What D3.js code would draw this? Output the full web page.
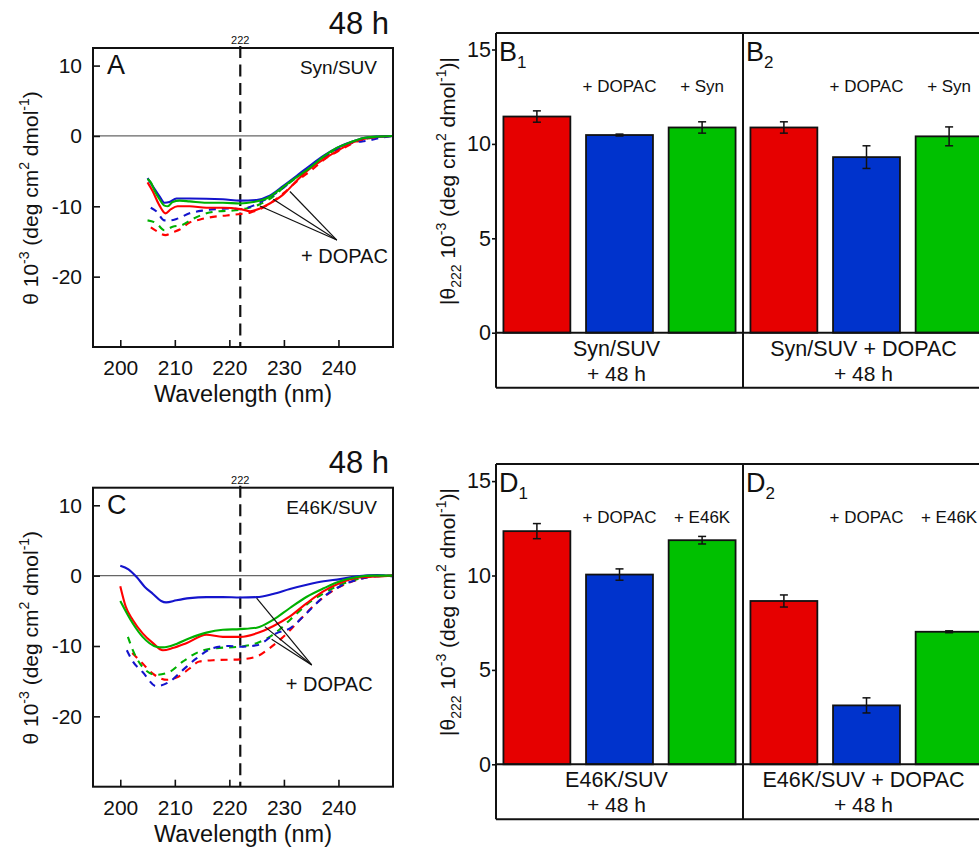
<!DOCTYPE html>
<html>
<head>
<meta charset="utf-8">
<script src="https://cdn.jsdelivr.net/npm/d3@7/dist/d3.min.js"></script>
<style>
  html, body { margin: 0; padding: 0; background: #fff; }
  svg { display: block; }
  text { font-family: "Liberation Sans", Arial, sans-serif; fill: #111; }
</style>
</head>
<body>
<svg id="fig" width="979" height="847"></svg>
<script>
// ---------- axis ticks ----------
const wavelengthTicks = [200, 210, 220, 230, 240];
const thetaTicks = [10, 0, -10, -20];
const barTicks = [0, 5, 10, 15];

// ---------- CD spectra, Syn/SUV after 48 h: [wavelength nm, theta x 10^-3] ----------
const synRed = [[205,-6.6],[205.9,-7.8],[207.2,-9.9],[208.3,-11.0],[209.3,-10.4],[210.5,-10.0],[212.7,-10.0],[215.8,-10.2],[218.8,-10.2],[222,-10.4],[223.8,-10.7],[225.6,-10.3],[227.4,-9.6],[229.9,-8.3],[232.3,-6.4],[234.2,-5.0],[237.3,-3.3],[240.3,-1.9],[243.4,-0.7],[246.5,-0.2],[250,0]];
const synBlue = [[205,-6.0],[206,-7.2],[207.2,-8.6],[208.1,-9.5],[209,-9.4],[210.3,-8.9],[212.7,-8.9],[218.8,-9.0],[222,-9.2],[225,-9.1],[227.4,-8.5],[229.9,-7.1],[232.3,-5.7],[234.8,-4.2],[237.3,-2.8],[239.7,-1.7],[242.2,-0.9],[244.6,-0.3],[247,-0.1],[250,0]];
const synGreen = [[205,-6.1],[205.6,-6.6],[206.3,-7.8],[207.2,-9.0],[208.1,-9.9],[208.7,-10.0],[209.6,-9.4],[210.9,-9.2],[212.7,-9.3],[215.8,-9.5],[218.8,-9.5],[222,-9.6],[224.4,-9.4],[226.8,-8.9],[229.3,-7.6],[231.7,-6.2],[234.8,-4.5],[237.3,-2.9],[239.7,-1.7],[242.2,-0.9],[244.6,-0.3],[247,-0.1],[250,0]];
const synRedDopac = [[205.6,-13.0],[206.6,-13.5],[208.3,-14.1],[209.6,-13.7],[210.9,-13.3],[212.7,-12.3],[214.5,-11.9],[217,-11.5],[219.5,-11.3],[222,-11.1],[223.8,-10.9],[225.6,-10.4],[227.4,-9.6],[230,-8.1],[232.3,-6.5],[235,-4.9],[237.5,-3.3],[240.3,-2.0],[243.4,-0.8],[246.5,-0.2],[250,0]];
const synBlueDopac = [[205.6,-10.2],[206.6,-10.7],[208.1,-12.0],[209,-12.0],[210.3,-11.8],[212.7,-11.0],[215.2,-10.6],[217.6,-10.4],[220.1,-10.3],[222,-10.4],[224.4,-9.9],[226.2,-9.2],[228,-8.4],[230,-7.3],[232.3,-5.8],[235,-4.3],[237.5,-3.0],[240,-1.9],[242.5,-1.0],[245.2,-0.7],[247.5,-0.3],[250,0]];
const synGreenDopac = [[205,-12.0],[206.6,-12.4],[208.1,-13.4],[209.6,-12.9],[211.2,-12.7],[213.3,-11.8],[215.8,-11.0],[218.2,-10.7],[220.7,-10.6],[223.1,-10.3],[225.6,-9.7],[227.5,-8.9],[230,-7.3],[232.3,-5.9],[235,-4.2],[237.5,-2.9],[240,-1.7],[242.5,-0.9],[245,-0.4],[247.5,-0.1],[250,0]];

// ---------- CD spectra, E46K/SUV after 48 h ----------
const e46kRed = [[200,-1.5],[201,-4.4],[202.3,-6.3],[204.1,-8.2],[206,-9.6],[207.8,-10.6],[209.6,-10.3],[212.1,-9.6],[215.8,-8.4],[218.8,-8.7],[222,-8.7],[225,-8.2],[228,-7.2],[231.1,-5.8],[234.2,-3.9],[237.3,-2.2],[240.3,-1.05],[243.4,-0.3],[247,-0.1],[250,0]];
const e46kBlue = [[200,1.4],[201.5,0.9],[203,-0.2],[204.5,-1.6],[206,-2.6],[207.5,-3.6],[208.4,-3.8],[210.3,-3.5],[212.7,-3.2],[215.8,-3.05],[218.8,-3.05],[222,-3.1],[225,-3.05],[228,-2.6],[231.1,-1.9],[234.2,-1.3],[237.3,-0.8],[240.3,-0.5],[243.4,-0.1],[247.1,0.1],[250,-0.1]];
const e46kGreen = [[200,-3.6],[202.3,-6.8],[204.1,-8.7],[206.6,-10.1],[207.8,-10.2],[210.3,-9.7],[212.7,-8.9],[215.8,-8.1],[218.8,-7.7],[222,-7.6],[225,-7.4],[228,-6.3],[231.1,-4.6],[234.2,-3.0],[237.3,-1.8],[240.3,-0.8],[243.4,-0.2],[246.5,0],[250,0]];
const e46kRedDopac = [[202.2,-11.0],[204.1,-12.5],[205.9,-13.9],[208.6,-14.8],[210.3,-14.5],[212.7,-13.2],[214.5,-12.2],[217.6,-12.0],[222,-11.9],[225,-11.5],[227.4,-10.3],[229.9,-8.7],[232.9,-6.3],[236,-3.9],[239.7,-1.8],[243.4,-0.6],[246.5,-0.1],[250,0]];
const e46kBlueDopac = [[201.2,-10.6],[202.3,-12.2],[204.1,-13.7],[206.6,-15.7],[209,-15.1],[211.5,-13.4],[213.9,-11.8],[217,-10.3],[220,-10.0],[222,-10.1],[225,-9.9],[228.6,-8.2],[231.1,-7.5],[234.2,-5.3],[237.3,-3.0],[240.3,-1.5],[243.4,-0.6],[246.5,-0.1],[250,0]];
const e46kGreenDopac = [[201.4,-8.7],[202.3,-10.6],[204.1,-13.0],[206.6,-14.1],[209,-13.7],[211.5,-12.2],[214.5,-10.8],[217.6,-10.3],[222,-10.1],[225,-9.6],[228,-8.4],[231.1,-6.3],[234.2,-4.1],[237.3,-2.5],[240.3,-1.3],[243.4,-0.5],[246.5,-0.1],[250,0]];

// ---------- |theta222| bars, x 10^-3 ----------
const barConditions = ["ctrl", "dopac", "protein"];
const synTopLabels = ["", "+ DOPAC", "+ Syn"];
const e46kTopLabels = ["", "+ DOPAC", "+ E46K"];
const synB1 = [11.45, 10.47, 10.87];
const synB1Err = [0.3, 0.05, 0.3];
const synB2 = [10.87, 9.3, 10.4];
const synB2Err = [0.3, 0.6, 0.5];
const e46kD1 = [12.35, 10.05, 11.87];
const e46kD1Err = [0.4, 0.3, 0.2];
const e46kD2 = [8.65, 3.12, 7.02];
const e46kD2Err = [0.32, 0.4, 0.05];

const svg = d3.select("#fig");
svg.append("rect").attr("width", 979).attr("height", 847).attr("fill", "#fff");

const specColor = { red: "#ff0000", blue: "#1414cc", green: "#00b000" };
const barColor = ["#e60000", "#0033cc", "#00c000"];
const plainNum = d => String(d);   // hyphen-minus, not U+2212

// rotated label "θ 10^-3 (deg cm^2 dmol^-1)" built from tspans
function thetaLabel(g, x, y, withSub) {
  const t = g.append("text")
    .attr("transform", `translate(${x},${y}) rotate(-90)`)
    .attr("text-anchor", "middle")
    .attr("font-size", 21);
  if (withSub) {
    t.append("tspan").text("|θ");
    t.append("tspan").attr("font-size", 14).attr("dy", 6).text("222");
    t.append("tspan").attr("dy", -6).text(" 10");
  } else {
    t.append("tspan").text("θ 10");
  }
  t.append("tspan").attr("font-size", 14).attr("dy", -9).text("-3");
  t.append("tspan").attr("dy", 9).text(" (deg cm");
  t.append("tspan").attr("font-size", 14).attr("dy", -9).text("2");
  t.append("tspan").attr("dy", 9).text(" dmol");
  t.append("tspan").attr("font-size", 14).attr("dy", -9).text("-1");
  t.append("tspan").attr("dy", 9).text(withSub ? ")|" : ")");
}

function drawSpectra(cfg) {
  const g = svg.append("g");
  const left = 93, right = 393, top = cfg.top, h = 299;
  const x = d3.scaleLinear().domain([195, 250]).range([left, right]);
  const y = d3.scaleLinear().domain([-30, 12.5]).range([top + h, top]);

  // zero line
  g.append("line").attr("x1", left).attr("x2", right)
    .attr("y1", y(0)).attr("y2", y(0))
    .attr("stroke", "#666").attr("stroke-width", 1.2);

  // axes with inward ticks
  const ya = g.append("g").attr("transform", `translate(${left},0)`)
    .call(d3.axisLeft(y).tickValues(thetaTicks).tickSize(-7).tickPadding(11).tickFormat(plainNum));
  const xa = g.append("g").attr("transform", `translate(0,${top + h})`)
    .call(d3.axisBottom(x).tickValues(wavelengthTicks).tickSize(-7).tickPadding(13.5).tickFormat(plainNum));
  [ya, xa].forEach(a => {
    a.select(".domain").remove();
    a.selectAll(".tick line").attr("stroke", "#111").attr("stroke-width", 1.6);
    a.selectAll(".tick text").attr("font-size", 21).attr("fill", "#111")
      .attr("font-family", "Liberation Sans, Arial, sans-serif");
  });

  // 222 nm marker
  g.append("line").attr("x1", x(222)).attr("x2", x(222))
    .attr("y1", top - 2).attr("y2", top + h)
    .attr("stroke", "#111").attr("stroke-width", 2.2).attr("stroke-dasharray", "12,6.5");
  g.append("text").attr("x", x(222)).attr("y", top - 4)
    .attr("text-anchor", "middle").attr("font-size", 11).text("222");

  // spectra
  const line = d3.line().x(d => x(d[0])).y(d => y(d[1])).curve(d3.curveMonotoneX);
  cfg.series.forEach(s => {
    g.append("path").datum(s.data)
      .attr("d", line)
      .attr("fill", "none")
      .attr("stroke", specColor[s.color])
      .attr("stroke-width", 2.1)
      .attr("stroke-dasharray", s.dashed ? "7,6" : null);
  });

  // + DOPAC pointer lines
  cfg.pointers.forEach(p => {
    g.append("line")
      .attr("x1", x(p[0])).attr("y1", y(p[1]))
      .attr("x2", x(cfg.apex[0])).attr("y2", y(cfg.apex[1]))
      .attr("stroke", "#111").attr("stroke-width", 1.2);
  });
  g.append("text").attr("x", x(cfg.note[0])).attr("y", y(cfg.note[1]))
    .attr("text-anchor", "middle").attr("font-size", 20).text("+ DOPAC");

  // frame
  g.append("rect").attr("x", left).attr("y", top).attr("width", right - left).attr("height", h)
    .attr("fill", "none").attr("stroke", "#111").attr("stroke-width", 2);

  // panel texts
  g.append("text").attr("x", 107).attr("y", top + 26).attr("font-size", 27).text(cfg.letter);
  g.append("text").attr("x", 377).attr("y", top + 26).attr("text-anchor", "end")
    .attr("font-size", 19).text(cfg.sample);
  g.append("text").attr("x", 389).attr("y", top - 14.5).attr("text-anchor", "end")
    .attr("font-size", 31).text("48 h");
  g.append("text").attr("x", 243).attr("y", top + 354).attr("text-anchor", "middle")
    .attr("font-size", 23.5).text("Wavelength (nm)");
  thetaLabel(g, 38, top + 150, false);
}

function drawBars(cfg) {
  const g = svg.append("g");
  const left = 496, right = 990, top = cfg.top, zero = cfg.zero, bottom = cfg.zero + 55;
  const y = d3.scaleLinear().domain([0, 15]).range([zero, zero - 283.2]);
  const groupX = d3.scaleBand().domain([0, 1]).range([left, right]);
  const barX = d3.scaleBand().domain(barConditions).range([0, groupX.bandwidth()])
    .paddingInner(0.19).paddingOuter(0.09);

  cfg.groups.forEach((grp, gi) => {
    const gx = groupX(gi);
    grp.values.forEach((v, i) => {
      const bx = gx + barX(barConditions[i]);
      const bw = barX.bandwidth();
      g.append("rect").attr("x", bx).attr("y", y(v)).attr("width", bw).attr("height", y(0) - y(v))
        .attr("fill", barColor[i]).attr("stroke", "#111").attr("stroke-width", 1.8);
      const cx = bx + bw / 2, e = grp.errors[i];
      g.append("line").attr("x1", cx).attr("x2", cx).attr("y1", y(v + e)).attr("y2", y(v - e))
        .attr("stroke", "#111").attr("stroke-width", 1.5);
      [v + e, v - e].forEach(ev => {
        g.append("line").attr("x1", cx - 4).attr("x2", cx + 4).attr("y1", y(ev)).attr("y2", y(ev))
          .attr("stroke", "#111").attr("stroke-width", 1.5);
      });
      if (cfg.topLabels[i]) {
        g.append("text").attr("x", cx).attr("y", top + 59).attr("text-anchor", "middle")
          .attr("font-size", 17).text(cfg.topLabels[i]);
      }
    });
    // panel letter with subscript
    const lt = g.append("text").attr("x", gx + 3).attr("y", top + 28).attr("font-size", 27);
    lt.append("tspan").text(cfg.letter);
    lt.append("tspan").attr("font-size", 17).attr("dy", 7).text(String(gi + 1));
    // sample labels under the zero line
    const mid = gx + groupX.bandwidth() / 2;
    g.append("text").attr("x", mid - 3).attr("y", zero + 23).attr("text-anchor", "middle")
      .attr("font-size", 21.5).text(grp.name);
    g.append("text").attr("x", mid - 3).attr("y", zero + 48).attr("text-anchor", "middle")
      .attr("font-size", 21).text("+ 48 h");
  });

  // frame, zero line and divider
  const seg = (x1, y1, x2, y2) => g.append("line")
    .attr("x1", x1).attr("y1", y1).attr("x2", x2).attr("y2", y2)
    .attr("stroke", "#111").attr("stroke-width", 2);
  seg(left, top, right, top);
  seg(left, bottom, right, bottom);
  seg(left, top, left, bottom);
  seg(left, zero, right, zero);
  seg(groupX(1), top, groupX(1), bottom);

  const ya = g.append("g").attr("transform", `translate(${left},0)`)
    .call(d3.axisLeft(y).tickValues(barTicks).tickSize(4).tickPadding(1).tickFormat(plainNum));
  ya.select(".domain").remove();
  ya.selectAll(".tick line").attr("stroke", "#111").attr("stroke-width", 1.6);
  ya.selectAll(".tick text").attr("font-size", 21.5).attr("fill", "#111")
    .attr("font-family", "Liberation Sans, Arial, sans-serif");

  thetaLabel(g, 455, top + 148, true);
}

drawSpectra({
  top: 48, letter: "A", sample: "Syn/SUV",
  series: [
    { data: synRedDopac, color: "red", dashed: true },
    { data: synGreenDopac, color: "green", dashed: true },
    { data: synBlueDopac, color: "blue", dashed: true },
    { data: synRed, color: "red" },
    { data: synBlue, color: "blue" },
    { data: synGreen, color: "green" }
  ],
  pointers: [[225.6, -9.95], [228.05, -9.0], [231.1, -7.9]],
  apex: [239.7, -14.8],
  note: [241.1, -18.0]
});

drawSpectra({
  top: 487.7, letter: "C", sample: "E46K/SUV",
  series: [
    { data: e46kRedDopac, color: "red", dashed: true },
    { data: e46kGreenDopac, color: "green", dashed: true },
    { data: e46kBlueDopac, color: "blue", dashed: true },
    { data: e46kBlue, color: "blue" },
    { data: e46kRed, color: "red" },
    { data: e46kGreen, color: "green" }
  ],
  pointers: [[225, -3.2], [226.5, -7.25], [227.75, -9.04]],
  apex: [235.1, -12.7],
  note: [238.3, -16.35]
});

drawBars({
  top: 33, zero: 332.7, letter: "B", topLabels: synTopLabels,
  groups: [
    { name: "Syn/SUV", values: synB1, errors: synB1Err },
    { name: "Syn/SUV + DOPAC", values: synB2, errors: synB2Err }
  ]
});

drawBars({
  top: 464, zero: 764.3, letter: "D", topLabels: e46kTopLabels,
  groups: [
    { name: "E46K/SUV", values: e46kD1, errors: e46kD1Err },
    { name: "E46K/SUV + DOPAC", values: e46kD2, errors: e46kD2Err }
  ]
});
</script>
</body>
</html>
